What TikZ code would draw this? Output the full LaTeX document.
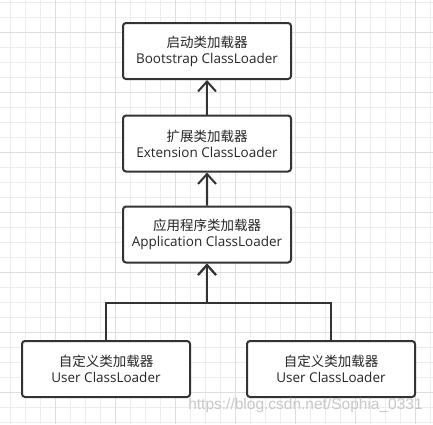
\documentclass[tikz,border=0pt]{standalone}
\usepackage{fontspec}
\setmainfont{Open Sans}
\newfontfamily\cjk{Noto Sans CJK SC}
\newfontfamily\markfont{Liberation Sans}
\usetikzlibrary{arrows.meta}
\definecolor{gridline}{RGB}{236,236,236}
\definecolor{gridmajor}{RGB}{222,222,222}
\definecolor{boxline}{RGB}{51,51,51}
\definecolor{marktext}{RGB}{200,200,200}

\begin{document}
\begin{tikzpicture}[x=1pt,y=1pt,
  loaderbox/.style={rectangle,draw=boxline,line width=2pt,rounded corners=3pt,fill=white,
    minimum width=168pt,minimum height=56pt,align=center,text=black!85,
    font=\fontsize{13.5}{16}\selectfont},
  edge from parent/.style={draw=boxline,line width=2pt,{Straight Barb[length=10pt,width=18pt]}-},
  level 1/.style={level distance=92.5pt},
  level 2/.style={level distance=91pt},
  level 3/.style={level distance=134.5pt,sibling distance=225pt,
    edge from parent path={(\tikzparentnode.south) -- ++(0,-39) -| (\tikzchildnode.north)}}]
% background grid
\fill[white] (0,0) rectangle (433,-424);
\useasboundingbox (0,0) rectangle (433,-424);
\foreach \x in {10,25,...,430} \draw[gridline,line width=1pt] (\x,0) -- (\x,-424);
\foreach \y in {2,17,...,422} \draw[gridline,line width=1pt] (0,-\y) -- (433,-\y);
\foreach \x in {55,115,...,415} \draw[gridmajor,line width=1pt] (\x,0) -- (\x,-424);
\foreach \y in {32,92,...,392} \draw[gridmajor,line width=1pt] (0,-\y) -- (433,-\y);

% loader hierarchy
\node[loaderbox] (boot) at (207,-51) {{\cjk 启动类加载器}\\Bootstrap ClassLoader}
  child {node[loaderbox] (ext) {{\cjk 扩展类加载器}\\Extension ClassLoader}
    child {node[loaderbox] (app) {{\cjk 应用程序类加载器}\\Application ClassLoader}
      child[xshift=11.5pt] {node[loaderbox] (user1) {{\cjk 自定义类加载器}\\User ClassLoader}}
      child[xshift=11.5pt] {node[loaderbox] (user2) {{\cjk 自定义类加载器}\\User ClassLoader}}}};

\node[text=marktext,font=\markfont\fontsize{15.5}{16}\selectfont] (mark) at (305.5,-405) {https://blog.csdn.net/Sophia\_0331};
\end{tikzpicture}
\end{document}
